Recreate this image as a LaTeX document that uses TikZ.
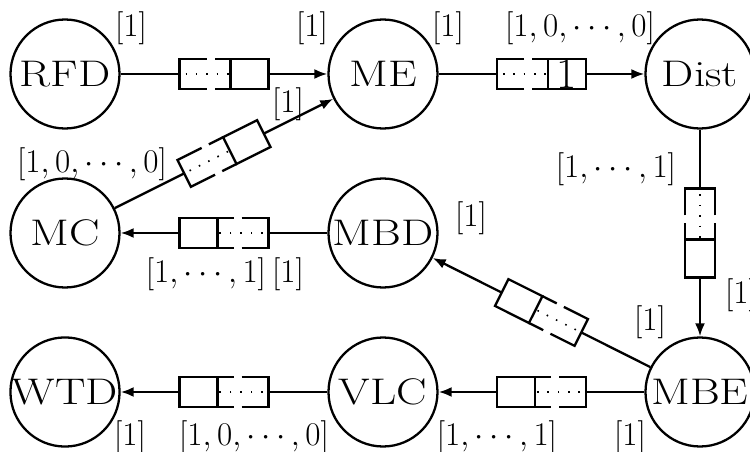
\documentclass[tikz,border=0pt]{standalone}
\usepackage{graphicx}
\usetikzlibrary{arrows.meta}

\newcommand{\bigname}[1]{\scalebox{1.5}[1.22]{#1}}

\begin{document}
\begin{tikzpicture}[
    line width=1.3pt,
    actor/.style={circle, draw, minimum size=2.18cm, inner sep=0pt,
                  font=\fontsize{17.28}{20}\selectfont},
    rate/.style={inner sep=0pt, scale=1.09, font=\fontsize{17.28}{20}\selectfont},
    token/.style={inner sep=0pt, font=\fontsize{25}{28}\selectfont},
    flow/.style={draw, -{Latex[length=0.26cm,width=0.2cm]}},
    halfopen/.style={dash pattern=on 0.32cm off 0.16cm on 3cm},
    pics/fifo/.style={code={
        \fill[white] (-0.89,-0.3) rectangle (0.89,0.3);
        \draw (0.13,-0.3) rectangle (0.89,0.3);
        \draw[halfopen] (0.13,0.3) -- (-0.89,0.3) -- (-0.89,0);
        \draw[halfopen] (0.13,-0.3) -- (-0.89,-0.3) -- (-0.89,0);
        \draw[line width=0.9pt, dash pattern=on 0.9pt off 5pt] (-0.77,0) -- (0.13,0);
        \node[token] at (0.51,0) {#1};
    }},
    pics/fifo/.default={}
]
\useasboundingbox (0,0) rectangle (15,-9.04);

% ===== Actors =====
\node[actor] (RFD)  at (1.30,-1.48)  {\bigname{RFD}};
\node[actor] (ME)   at (7.66,-1.48)  {\bigname{ME}};
\node[actor] (Dist) at (14.00,-1.48) {\bigname{Dist}};
\node[actor] (MC)   at (1.30,-4.66)  {\bigname{MC}};
\node[actor] (MBD)  at (7.66,-4.66)  {\bigname{MBD}};
\node[actor] (WTD)  at (1.30,-7.84)  {\bigname{WTD}};
\node[actor] (VLC)  at (7.66,-7.84)  {\bigname{VLC}};
\node[actor] (MBE)  at (14.00,-7.84) {\bigname{MBE}};

% ===== Channels with buffers =====
\foreach \src/\dst/\tok in {RFD/ME/{}, ME/Dist/1, Dist/MBE/{}, MBE/MBD/{},
                            MBD/MC/{}, MC/ME/{}, MBE/VLC/{}, VLC/WTD/{}}{
    \draw[flow] (\src) -- (\dst);
    \path (\src) -- pic[pos=.5, sloped, allow upside down]{fifo=\tok} (\dst);
}

% ===== Rates =====
\node[rate] (rRFDo)  at (2.62,-0.56)  {$[1]$};
\node[rate] (rMEi)   at (6.24,-0.56)  {$[1]$};
\node[rate] (rMEo)   at (8.96,-0.56)  {$[1]$};
\node[rate] (rDisti) at (11.60,-0.56) {$[1,0,\cdots,0]$};
\node[rate] (rDisto) at (12.32,-3.38) {$[1,\cdots,1]$};
\node[rate] (rMBEi)  at (14.82,-5.90) {$[1]$};
\node[rate] (rMBEd)  at (13.00,-6.44) {$[1]$};
\node[rate] (rMBDi)  at (9.42,-4.36)  {$[1]$};
\node[rate] (rMCi)   at (4.12,-5.48)  {$[1,\cdots,1]$};
\node[rate] (rMBDo)  at (5.76,-5.48)  {$[1]$};
\node[rate] (rMCo)   at (1.84,-3.28)  {$[1,0,\cdots,0]$};
\node[rate] (rMEc)   at (5.76,-2.08)  {$[1]$};
\node[rate] (rWTDi)  at (2.60,-8.74)  {$[1]$};
\node[rate] (rVLCo)  at (5.08,-8.74)  {$[1,0,\cdots,0]$};
\node[rate] (rVLCi)  at (9.94,-8.74)  {$[1,\cdots,1]$};
\node[rate] (rMBEv)  at (12.60,-8.74) {$[1]$};

\end{tikzpicture}
\end{document}
